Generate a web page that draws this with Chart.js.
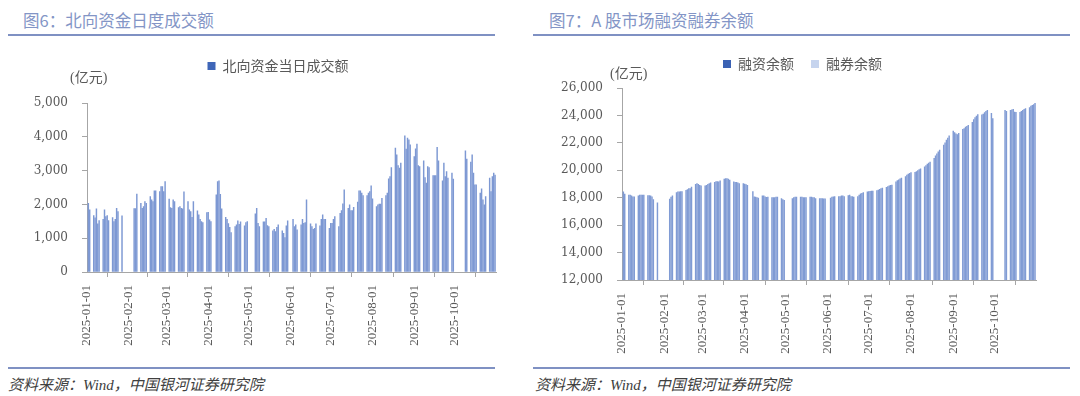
<!DOCTYPE html>
<html><head><meta charset="utf-8">
<script src="https://cdn.jsdelivr.net/npm/chart.js@4.4.0/dist/chart.umd.min.js"></script>
<style>
html,body{margin:0;padding:0;background:#fff;width:1080px;height:396px;overflow:hidden;position:relative;font-family:"Noto Sans CJK SC",sans-serif;}
.title{position:absolute;top:9px;font-size:16.5px;color:#8395c6;line-height:22px;white-space:nowrap;}
.rule{position:absolute;height:2px;background:#7f91c3;}
.src{position:absolute;top:375px;font-size:15px;color:#404040;font-style:italic;font-family:"Liberation Serif","Noto Sans CJK SC",serif;white-space:nowrap;line-height:20px}
canvas{position:absolute;}
</style></head>
<body>
<div class="title" style="left:23px">图6：北向资金日度成交额</div>
<div class="rule" style="left:8px;width:487px;top:34px"></div>
<div class="title" style="left:549px">图7：A 股市场融资融券余额</div>
<div class="rule" style="left:533px;width:537px;top:34px"></div>
<div class="rule" style="left:8px;width:487px;top:367px"></div>
<div class="rule" style="left:533px;width:537px;top:367px"></div>
<div class="src" style="left:8px">资料来源：Wind，中国银河证券研究院</div>
<div class="src" style="left:535px">资料来源：Wind，中国银河证券研究院</div>
<canvas id="c1" width="520" height="325" style="left:0;top:40px"></canvas>
<canvas id="c2" width="520" height="325" style="left:540px;top:40px"></canvas>
<script>
// ---- data ----
const tradeDates = [
 '01-02','01-03','01-06','01-07','01-08','01-09','01-10','01-13','01-14','01-15','01-16','01-17','01-20','01-21','01-22','01-23','01-24','01-27',
 '02-05','02-06','02-07','02-10','02-11','02-12','02-13','02-14','02-17','02-18','02-19','02-20','02-21','02-24','02-25','02-26','02-27','02-28',
 '03-03','03-04','03-05','03-06','03-07','03-10','03-11','03-12','03-13','03-14','03-17','03-18','03-19','03-20','03-21','03-24','03-25','03-26','03-27','03-28','03-31',
 '04-01','04-02','04-03','04-07','04-08','04-09','04-10','04-11','04-14','04-15','04-16','04-17','04-18','04-21','04-22','04-23','04-24','04-25','04-28','04-29','04-30',
 '05-06','05-07','05-08','05-09','05-12','05-13','05-14','05-15','05-16','05-19','05-20','05-21','05-22','05-23','05-26','05-27','05-28','05-29','05-30',
 '06-03','06-04','06-05','06-06','06-09','06-10','06-11','06-12','06-13','06-16','06-17','06-18','06-19','06-20','06-23','06-24','06-25','06-26','06-27','06-30',
 '07-01','07-02','07-03','07-04','07-07','07-08','07-09','07-10','07-11','07-14','07-15','07-16','07-17','07-18','07-21','07-22','07-23','07-24','07-25','07-28','07-29','07-30','07-31',
 '08-01','08-04','08-05','08-06','08-07','08-08','08-11','08-12','08-13','08-14','08-15','08-18','08-19','08-20','08-21','08-22','08-25','08-26','08-27','08-28','08-29',
 '09-01','09-02','09-03','09-04','09-05','09-08','09-09','09-10','09-11','09-12','09-15','09-16','09-17','09-18','09-19','09-22','09-23','09-24','09-25','09-26','09-29','09-30',
 '10-09','10-10','10-13','10-14','10-15','10-16','10-17','10-20','10-21','10-22','10-23','10-24','10-27','10-28','10-29','10-30','10-31'
];
// 北向资金当日成交额（亿元）
const northboundTurnover = [
 2035,1838,1670,1600,1867,1423,1521,1561,1838,1640,1670,1521,1610,1490,1561,1887,1788,1660,
 1877,1877,2302,2035,1887,1936,2085,2035,2233,2134,2085,2401,2401,2381,2529,2529,2381,2677,
 2154,1907,1887,2134,2085,1907,1936,1887,1867,2371,2085,1838,1788,1620,2085,1808,1689,1561,1492,1462,1759,
 1768,1541,1492,2282,2677,2697,2300,1867,1620,1561,1430,1324,1166,1344,1393,1512,1413,1482,1363,1462,1492,
 1719,1887,1442,1344,1482,1482,1591,1373,1344,1215,1264,1195,1324,1393,1215,1146,1018,1363,1512,
 1561,1344,1393,1245,1393,1561,1442,1462,2134,1423,1344,1264,1294,1423,1363,1561,1689,1561,1561,1294,
 1442,1442,1561,1640,1344,1739,1818,2015,2430,1887,1986,1818,1818,1917,2065,2401,2401,2332,2262,2262,2332,2381,2549,
 2164,1936,1986,2006,2006,2183,2262,2332,2756,2826,3092,3665,3468,3152,3073,3221,4031,3640,3960,3910,3760,
 3418,3646,3784,3152,3122,3290,2796,2628,3122,3092,2855,2855,2855,3685,3290,2697,3221,2826,2974,2776,2924,2747,
 3586,3339,3250,3468,2924,2579,2579,2332,2460,2134,1986,2233,2776,2381,2826,2924,2865
];
// 融资余额（亿元）
const marginBalance = [
 18430,18260,18190,18190,18130,18060,18060,18130,18190,18190,18190,18190,18160,18160,18130,18060,17870,17630,
 17900,18040,18130,18370,18420,18420,18440,18440,18540,18590,18660,18660,18780,18980,19030,18980,18910,18860,
 18860,18910,18980,19030,19080,19130,19180,19180,19150,19230,19350,19400,19400,19350,19280,19150,19130,19130,19080,19030,19030,
 19000,18960,18910,18440,18060,18040,18010,17970,18130,18130,18060,18030,18040,18010,18010,18010,18040,18040,17940,17870,17810,
 17940,18010,18040,18040,18040,18040,18010,18010,18010,18040,18040,18010,18010,17940,17940,17940,17940,17910,17910,
 17970,18040,18060,18090,18090,18090,18130,18130,18090,18160,18190,18090,18090,18040,18090,18200,18280,18320,18370,18420,
 18440,18470,18490,18490,18520,18560,18610,18660,18710,18760,18810,18860,18910,18930,19150,19250,19300,19380,19430,19550,19650,19720,19780,
 19830,19850,19900,19980,20050,20100,20250,20350,20450,20530,20600,20870,21050,21200,21350,21480,21830,22000,22200,22350,22510,
 22850,22750,22650,22600,22700,22990,23050,23150,23200,23280,23500,23700,23850,23950,24060,24050,24100,24200,24300,24370,24150,23770,
 24376,24300,24380,24400,24450,24250,24230,24230,24300,24376,24450,24500,24570,24680,24740,24800,24890
];
// 融券余额（亿元）
const shortBalance = [
 126,127,127,128,128,129,129,130,130,131,131,132,132,133,133,133,134,134,
 134,135,135,136,136,137,137,138,138,139,139,140,140,141,141,141,140,140,
 140,141,141,142,142,142,143,143,143,144,144,144,143,143,142,141,140,139,138,137,136,
 135,134,133,125,118,115,114,113,113,112,112,112,111,111,111,110,110,110,110,109,109,
 109,109,110,110,110,111,111,111,112,112,112,112,113,113,113,113,113,114,114,
 114,114,114,115,115,115,115,116,116,116,116,117,117,117,117,118,118,118,118,119,
 119,119,120,120,120,121,121,122,122,123,123,124,124,125,125,126,126,127,127,128,128,129,129,
 130,130,131,132,132,133,134,135,136,137,138,139,140,141,142,143,145,147,149,150,152,
 153,154,155,156,157,158,159,160,161,162,163,164,165,166,167,168,169,170,171,172,172,173,
 174,175,175,176,176,177,177,178,178,179,179,180,180,181,181,182,182
];
const monthTicks = ['01-01','02-01','03-01','04-01','05-01','06-01','07-01','08-01','09-01','10-01','11-01'];
const monthTickLabels = ['2025-01-01','2025-02-01','2025-03-01','2025-04-01','2025-05-01','2025-06-01','2025-07-01','2025-08-01','2025-09-01','2025-10-01',''];
const leftYTicks = [0,1000,2000,3000,4000,5000];
const rightYTicks = [12000,14000,16000,18000,20000,22000,24000,26000];

// ---- helpers ----
const dayIndex = s => { const [m,d] = s.split('-').map(Number); return (Date.UTC(2025,m-1,d) - Date.UTC(2025,0,1)) / 86400000; };
const tickDays = monthTicks.map(dayIndex);
const toPoints = vals => tradeDates.map((d,i) => ({x: dayIndex(d), y: vals[i]}));

const GRAY = '#595959', AXIS = '#a6a6a6';
function legendTweak(h, dx){ return {id:'legendTweak',
  beforeInit(chart){ const fit = chart.legend.fit; chart.legend.fit = function(){ fit.call(this); this.height = h; }; },
  afterLayout(chart){ chart.legend.left += dx; chart.legend.right += dx; }}; }
function unitLabel(dx, dy){ return {id:'unitLabel', afterDraw(chart){ const {ctx, chartArea} = chart; ctx.save(); ctx.font = '14px "Liberation Serif","Noto Sans CJK SC"'; ctx.fillStyle = GRAY; ctx.textBaseline = 'middle'; ctx.textAlign = 'left'; ctx.fillText('(亿元)', chartArea.left + dx, chartArea.top + dy); ctx.restore(); }}; }

function xScale(h){
  return {type:'linear', min:0, max:tickDays[tickDays.length-1], offset:false,
    afterBuildTicks: s => { s.ticks = tickDays.map(v => ({value:v})); },
    afterFit: s => { s.height = h; },
    ticks:{autoSkip:false, minRotation:90, maxRotation:90, padding:8, color:GRAY,
      font:{family:'Liberation Serif', size:13}, callback:(v,i) => monthTickLabels[i]},
    grid:{display:true, drawOnChartArea:false, tickLength:5, color:AXIS},
    border:{display:true, color:AXIS, width:1}};
}
function yScale(ticksArr, w){
  return {min:ticksArr[0], max:ticksArr[ticksArr.length-1],
    afterBuildTicks: s => { s.ticks = ticksArr.map(v => ({value:v})); },
    afterFit: s => { s.width = w; },
    ticks:{padding:14, color:GRAY, font:{family:'DejaVu Serif', size:12}, callback: v => v.toLocaleString('en-US')},
    grid:{display:true, drawOnChartArea:false, tickLength:5, color:AXIS},
    border:{display:true, color:AXIS, width:1}};
}
function legendOpts(){ return {position:'top', align:'center',
  labels:{boxWidth:8, boxHeight:8, padding:17, color:GRAY, font:{family:'Noto Sans CJK SC', size:14},
    generateLabels(chart){ return chart.data.datasets.map((ds,i) => ({text:ds.label, fillStyle:ds.legendColor, strokeStyle:ds.legendColor, lineWidth:0, fontColor:GRAY, datasetIndex:i, hidden:false})); }}}; }

Chart.defaults.font.family = 'Noto Sans CJK SC';

new Chart(document.getElementById('c1'), {
  type:'bar',
  data:{datasets:[{label:'北向资金当日成交额', data:toPoints(northboundTurnover),
    backgroundColor:'#7d98d3', legendColor:'#3f66b8', barThickness:0.8}]},
  options:{responsive:false, animation:false, events:[],
    layout:{padding:{left:0, right:13, top:2, bottom:0}},
    plugins:{legend:legendOpts(), tooltip:{enabled:false}},
    scales:{x:xScale(93), y:yScale(leftYTicks, 87)}},
  plugins:[legendTweak(61, 24.5), unitLabel(-17,-25)]
});

new Chart(document.getElementById('c2'), {
  type:'bar',
  data:{datasets:[
    {label:'融资余额', data:toPoints(marginBalance), backgroundColor:'#809bd4', legendColor:'#3b62b4', barThickness:0.8, grouped:false},
    {label:'融券余额', data:toPoints(shortBalance), backgroundColor:'#c6d4ee', legendColor:'#c6d4ee', barThickness:0.8, grouped:false}
  ]},
  options:{responsive:false, animation:false, events:[],
    layout:{padding:{left:0, right:19, top:0, bottom:0}},
    plugins:{legend:legendOpts(), tooltip:{enabled:false}},
    scales:{x:xScale(85), y:yScale(rightYTicks, 82)}},
  plugins:[legendTweak(48, 12), unitLabel(-12,-14)]
});
</script>
</body></html>
